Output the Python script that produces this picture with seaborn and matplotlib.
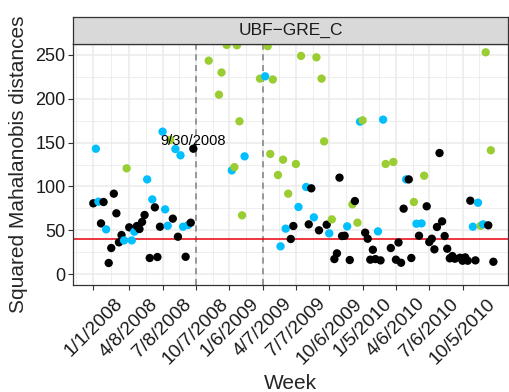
import numpy as np
import pandas as pd
import matplotlib
matplotlib.use("Agg")
import matplotlib.pyplot as plt
import seaborn as sns

# Weekly squared Mahalanobis distances for station UBF-GRE_C
# (weeks counted from 1/1/2008; one observation per week, gaps are missing weeks)
week_no = [
    0, 1, 2, 3, 4, 5, 6, 7, 8, 9, 10, 11, 12, 13, 14, 15, 16, 17, 18, 19,
    20, 21, 22, 23, 24, 25, 26, 27, 28, 29, 30, 31, 32, 33, 34, 35, 36, 37, 38, 39,
    45, 49, 50, 52, 54, 55, 56, 57, 58, 59, 65, 67, 68, 69, 70, 72, 73, 74, 75, 76,
    77, 78, 79, 80, 81, 83, 84, 85, 86, 87, 88, 89, 90, 91, 92, 93, 94, 95, 96, 97,
    98, 99, 100, 101, 102, 103, 104, 105, 106, 107, 108, 109, 110, 111, 112, 113, 114, 116, 117, 118,
    119, 120, 121, 122, 123, 124, 125, 126, 127, 128, 129, 130, 131, 132, 133, 134, 135, 136, 137, 138,
    139, 140, 141, 143, 144, 145, 146, 147, 148, 149, 150, 151, 152, 153, 154, 155, 156,
]
distance = [
    80.7, 143.0, 82.6, 57.8, 82.2, 51.0, 12.6, 29.7, 91.7, 69.3, 36.2, 44.5, 38.4, 120.6, 53.3, 38.4, 48.3, 54.8, 51.4, 59.4,
    67.4, 108.0, 18.3, 85.2, 76.1, 19.4, 54.0, 162.5, 73.8, 55.1, 153.0, 63.2, 142.7, 42.6, 135.5, 54.0, 19.7, 56.0, 58.6, 143.0,
    243.5, 204.7, 230.0, 261.5, 118.3, 122.0, 261.0, 174.3, 67.0, 134.3, 223.0, 225.6, 260.0, 137.0, 222.0, 113.0, 31.6, 130.5, 51.8, 91.7,
    40.0, 54.8, 125.6, 76.5, 248.9, 99.3, 56.7, 97.8, 64.7, 247.3, 49.9, 223.0, 151.4, 56.3, 46.4, 62.4, 17.1, 23.6, 110.0, 43.4,
    43.7, 54.4, 16.0, 79.5, 83.3, 58.6, 173.9, 175.4, 47.2, 40.3, 16.4, 27.7, 17.1, 48.7, 15.6, 176.2, 125.6, 29.7, 127.9, 16.4,
    36.0, 12.9, 74.6, 108.0, 108.0, 18.3, 82.2, 57.4, 43.7, 57.8, 112.2, 77.3, 36.5, 40.3, 28.2, 53.7, 138.1, 60.1, 43.4, 28.9,
    17.9, 20.5, 17.5, 18.6, 15.2, 19.0, 15.2, 83.7, 54.0, 15.6, 81.4, 55.1, 56.7, 253.0, 55.6, 141.2, 14.0,
]
flag = [
    "ok", "warn", "warn", "ok", "ok", "warn", "ok", "ok", "ok", "ok", "ok", "ok", "warn", "alert", "ok", "warn", "warn", "ok", "ok", "ok",
    "ok", "warn", "ok", "warn", "ok", "ok", "ok", "warn", "warn", "warn", "alert", "ok", "warn", "ok", "warn", "warn", "ok", "warn", "ok", "ok",
    "alert", "alert", "alert", "alert", "warn", "alert", "alert", "alert", "alert", "warn", "alert", "warn", "alert", "alert", "alert", "alert", "warn", "alert", "warn", "alert",
    "ok", "ok", "alert", "warn", "alert", "warn", "ok", "ok", "warn", "alert", "ok", "alert", "alert", "ok", "warn", "alert", "ok", "ok", "ok", "ok",
    "ok", "warn", "ok", "alert", "ok", "alert", "warn", "alert", "ok", "ok", "ok", "ok", "ok", "warn", "ok", "warn", "alert", "ok", "alert", "ok",
    "ok", "ok", "ok", "warn", "ok", "ok", "alert", "warn", "ok", "warn", "alert", "ok", "ok", "ok", "ok", "ok", "ok", "ok", "ok", "ok",
    "ok", "ok", "ok", "ok", "ok", "ok", "ok", "ok", "warn", "ok", "warn", "alert", "warn", "alert", "ok", "alert", "ok",
]

tick_weeks = [0, 14, 27, 40, 53, 66, 79, 92, 105, 118, 131, 144]
tick_labels = ["1/1/2008", "4/8/2008", "7/8/2008", "10/7/2008", "1/6/2009", "4/7/2009",
               "7/7/2009", "10/6/2009", "1/5/2010", "4/6/2010", "7/6/2010", "10/5/2010"]
period_marks = [40, 66]          # 10/7/2008 and 4/7/2009
threshold = 40
highlight_week = 39
highlight_label = "9/30/2008"
panel_title = "UBF\u2212GRE_C"

df = pd.DataFrame({"week": week_no, "distance": distance, "flag": flag})
palette = {"ok": "black", "warn": "#00BFFF", "alert": "#9ACD32"}

sns.set_theme(style="white")
plt.rcParams["font.family"] = ["Liberation Sans", "DejaVu Sans"]

W, H = 509, 392
fig = plt.figure(figsize=(W / 100, H / 100), dpi=100)
left, right, top, bottom = 73.3, 508.0, 44.0, 285.0
ax = fig.add_axes([left / W, 1 - bottom / H, (right - left) / W, (bottom - top) / H])

# grid (major + minor, ggplot theme_bw style)
grid_c = "#EBEBEB"
for y in np.arange(25, 260, 50):
    ax.axhline(y, color=grid_c, lw=0.6, zorder=0)
for y in np.arange(0, 260, 50):
    ax.axhline(y, color=grid_c, lw=1.1, zorder=0)
mids = [(a + b) / 2 for a, b in zip(tick_weeks[:-1], tick_weeks[1:])]
mids = [tick_weeks[0] - 6.75] + mids + [tick_weeks[-1] + 6.5, tick_weeks[-1] + 19.5]
for x in mids:
    ax.axvline(x, color=grid_c, lw=0.6, zorder=0)
for x in tick_weeks:
    ax.axvline(x, color=grid_c, lw=1.1, zorder=0)

for x in period_marks:
    ax.axvline(x, color="#7F7F7F", lw=1.1, ls=(0, (4, 3)), zorder=1)
ax.axhline(threshold, color="#E8000B", lw=1.1, zorder=1)

sns.scatterplot(data=df, x="week", y="distance", hue="flag", palette=palette,
                s=36, edgecolor="none", linewidth=0, legend=False, ax=ax, zorder=3)

hv = df.loc[df["week"] == highlight_week, "distance"].iloc[0]
ax.annotate(highlight_label, (highlight_week, hv), xytext=(0, 0.5),
            textcoords="offset points", ha="center", va="bottom",
            fontsize=10.5, color="black", zorder=4)

ax.set_xlim(-7.8, 161.7)
ax.set_ylim(-12.5, 262.5)
ax.set_xticks(tick_weeks)
ax.set_xticklabels(tick_labels, rotation=45, ha="center", va="top")
ax.set_yticks(np.arange(0, 251, 50))
ax.tick_params(axis="both", which="major", labelcolor="#1A1A1A",
               color="#333333", length=3.5, width=0.8, direction="out",
               bottom=True, left=True)
ax.tick_params(axis="x", labelsize=13.8, pad=4)
ax.tick_params(axis="y", labelsize=13, pad=2)
for s in ax.spines.values():
    s.set_color("#333333")
    s.set_linewidth(0.9)
ax.set_facecolor("white")

ax.set_xlabel("Week", fontsize=15)
ax.set_ylabel("Squared Mahalanobis distances", fontsize=15)
ax.xaxis.set_label_coords(0.5, -0.37)
ax.yaxis.set_label_coords(-0.105, 0.5)

# facet strip
sax = fig.add_axes([left / W, 1 - top / H, (right - left) / W, 27 / H])
sax.set_facecolor("#D9D9D9")
sax.set_xticks([])
sax.set_yticks([])
for s in sax.spines.values():
    s.set_color("#333333")
    s.set_linewidth(0.9)
sax.text(0.5, 0.5, panel_title, ha="center", va="center", fontsize=12.5,
         color="#1A1A1A", transform=sax.transAxes)

fig.savefig("out.png", dpi=100)
